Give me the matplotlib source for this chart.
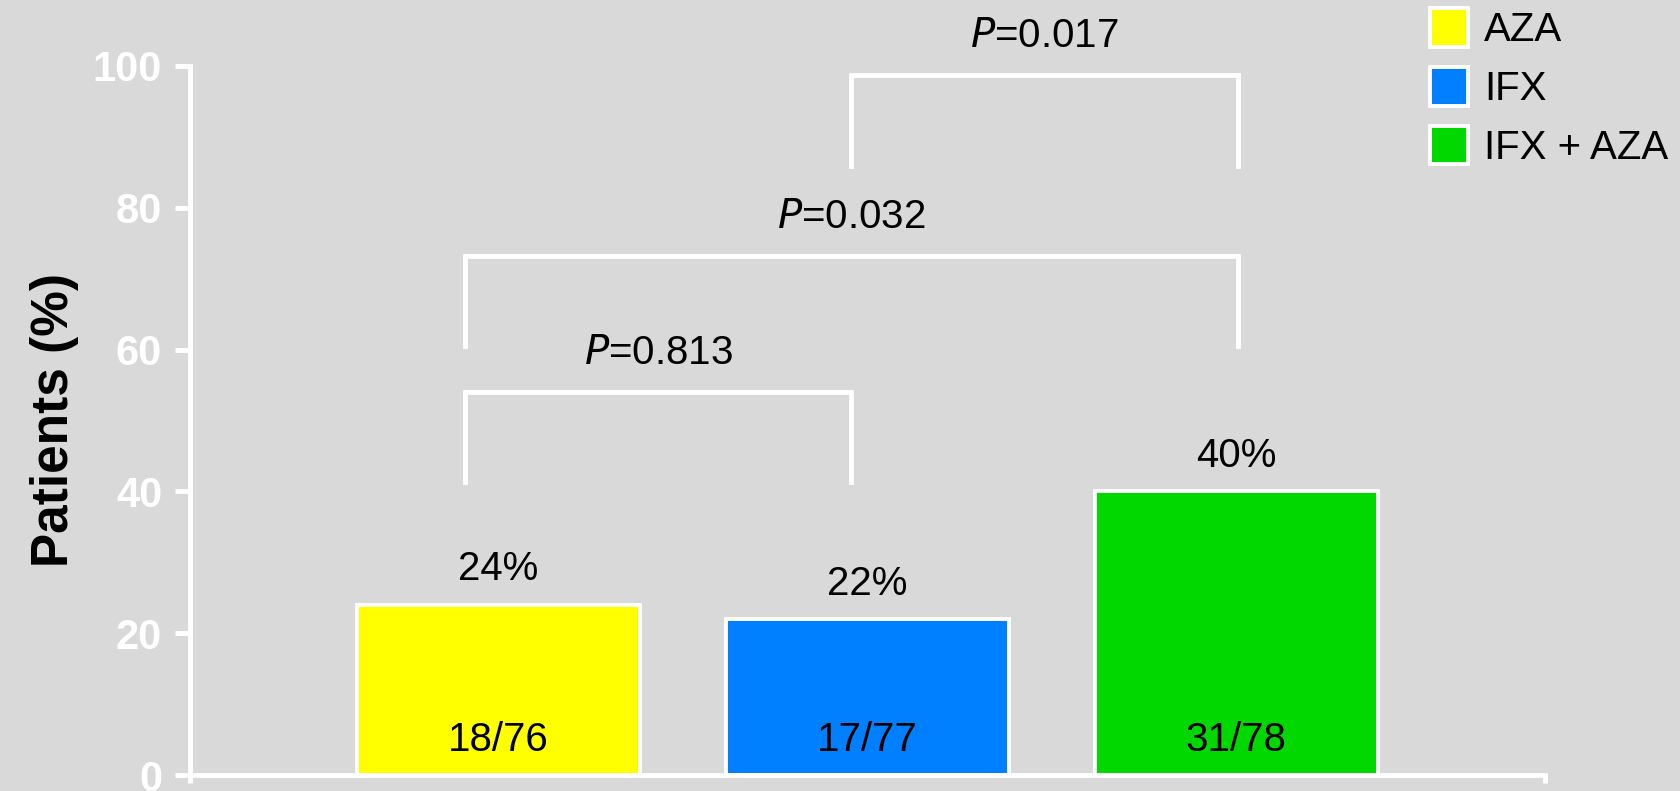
import numpy as np
import matplotlib.pyplot as plt
from matplotlib.patches import Patch

plt.rcParams['font.family'] = ['Liberation Sans', 'DejaVu Sans']

groups = ['AZA', 'IFX', 'IFX + AZA']
percent = [24, 22, 40]
counts = ['18/76', '17/77', '31/78']
colors = ['#ffff00', '#0080ff', '#00d800']

# pairwise comparisons: (left bar, right bar, bracket height, leg bottom, label)
pvals = [(0, 1, 54.0, 41.3, '0.813'),
         (0, 2, 73.2, 60.5, '0.032'),
         (1, 2, 98.7, 85.9, '0.017')]

bg = '#d9d9d9'
fig = plt.figure(figsize=(16.81, 7.91), dpi=100, facecolor=bg)
ax = fig.add_axes([0.113, 0.0202, 0.806, 0.8964])
ax.set_facecolor(bg)

x = np.arange(len(groups))
ax.bar(x, percent, width=0.767, color=colors, edgecolor='white', linewidth=2.8, zorder=2)

for i in x:
    ax.text(i, percent[i] + 5, f'{percent[i]}%', ha='center', va='center', fontsize=29)
    ax.text(i, 4.9, counts[i], ha='center', va='center', fontsize=29)

# significance brackets
for a, b, h, low, lab in pvals:
    xa = a - 0.09 if a == 0 else a - 0.043
    xb = b - 0.043 if b == 1 else b + 0.005
    ax.plot([xa, xa, xb, xb], [low, h, h, low], color='white', lw=3.5, clip_on=False,
            solid_joinstyle='miter', zorder=3)
    ax.text((xa + xb) / 2, h + 5.5, r'$\it{P}$' + '=' + lab, ha='center', va='center',
            fontsize=29, clip_on=False)

ax.set_xlim(-0.835, 2.837)
ax.set_ylim(0, 100)
ax.set_yticks([0, 20, 40, 60, 80, 100])
ax.set_xticks([-0.835, 2.837])
ax.set_xticklabels([])
ax.tick_params(axis='y', colors='white', length=11, width=3.5, pad=9, labelsize=30)
ax.tick_params(axis='x', colors='white', length=6, width=3.5)
for t in ax.get_yticklabels():
    t.set_fontweight('bold')
for s in ['top', 'right']:
    ax.spines[s].set_visible(False)
for s in ['left', 'bottom']:
    ax.spines[s].set_color('white')
    ax.spines[s].set_linewidth(3.5)
ax.set_ylabel('Patients (%)', fontsize=37, fontweight='bold', labelpad=10)

handles = [Patch(facecolor=c, edgecolor='white', linewidth=2.8) for c in colors]
fig.legend(handles, groups, loc='upper left', bbox_to_anchor=(0.841, 1.01), frameon=False,
           fontsize=29, handlelength=0.95, handleheight=1.1, handletextpad=0.4,
           labelspacing=0.44, borderaxespad=0.0)

fig.savefig('out.png', dpi=100, facecolor=bg)
